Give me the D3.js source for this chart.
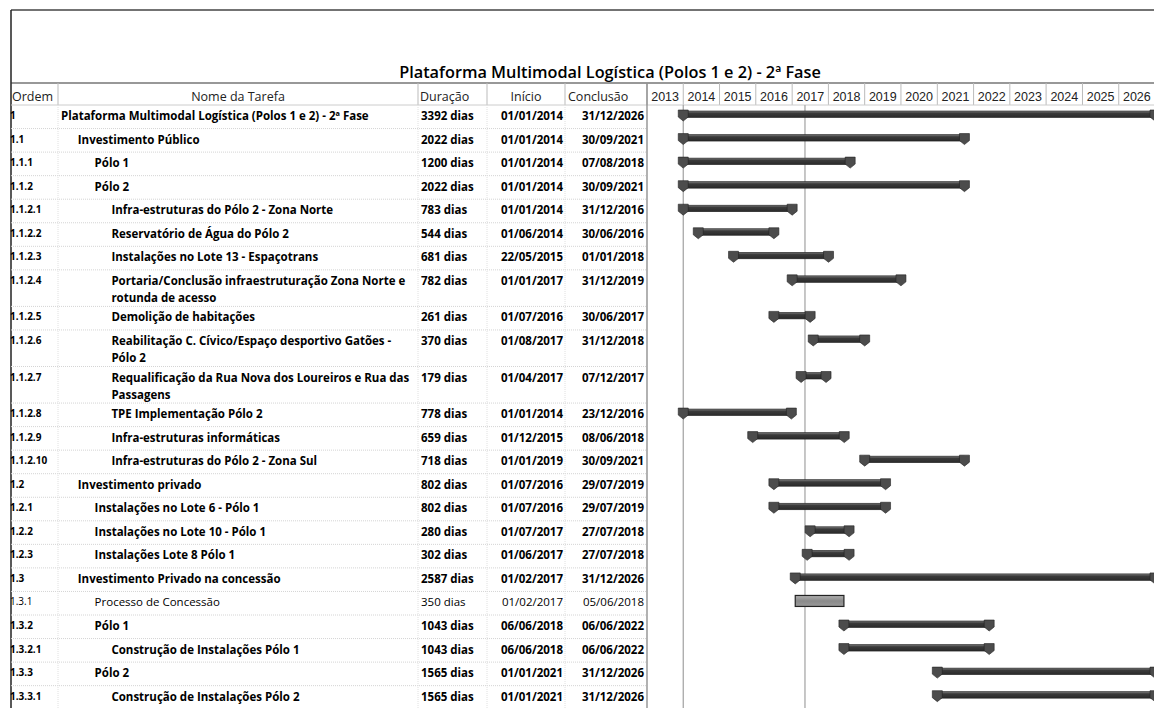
<!DOCTYPE html>
<html>
<head>
<meta charset="utf-8">
<script src="https://cdn.jsdelivr.net/npm/d3@7"></script>
<style>
  body { margin: 0; background: #fff; }
  svg { display: block; font-family: "Open Sans", Lato, sans-serif; }
</style>
</head>
<body>
<div id="gantt"></div>
<script>
// ---- data ----
var chartTitle = "Plataforma Multimodal Logística (Polos 1 e 2) - 2ª Fase";
var taskIds = ["1", "1.1", "1.1.1", "1.1.2", "1.1.2.1", "1.1.2.2", "1.1.2.3", "1.1.2.4", "1.1.2.5",
  "1.1.2.6", "1.1.2.7", "1.1.2.8", "1.1.2.9", "1.1.2.10", "1.2", "1.2.1", "1.2.2", "1.2.3",
  "1.3", "1.3.1", "1.3.2", "1.3.2.1", "1.3.3", "1.3.3.1"];
var taskNames = [
  "Plataforma Multimodal Logística (Polos 1 e 2) - 2ª Fase",
  "Investimento Público",
  "Pólo 1",
  "Pólo 2",
  "Infra-estruturas do Pólo 2 - Zona Norte",
  "Reservatório de Água do Pólo 2",
  "Instalações no Lote 13 - Espaçotrans",
  "Portaria/Conclusão infraestruturação Zona Norte e rotunda de acesso",
  "Demolição de habitações",
  "Reabilitação C. Cívico/Espaço desportivo Gatões - Pólo 2",
  "Requalificação da Rua Nova dos Loureiros e Rua das Passagens",
  "TPE Implementação Pólo 2",
  "Infra-estruturas informáticas",
  "Infra-estruturas do Pólo 2 - Zona Sul",
  "Investimento privado",
  "Instalações no Lote 6 - Pólo 1",
  "Instalações no Lote 10 - Pólo 1",
  "Instalações Lote 8 Pólo 1",
  "Investimento Privado na concessão",
  "Processo de Concessão",
  "Pólo 1",
  "Construção de Instalações Pólo 1",
  "Pólo 2",
  "Construção de Instalações Pólo 2"
];
var durationDays = [3392, 2022, 1200, 2022, 783, 544, 681, 782, 261, 370, 179, 778, 659, 718,
  802, 802, 280, 302, 2587, 350, 1043, 1043, 1565, 1565];
var startDates = ["01/01/2014", "01/01/2014", "01/01/2014", "01/01/2014", "01/01/2014", "01/06/2014",
  "22/05/2015", "01/01/2017", "01/07/2016", "01/08/2017", "01/04/2017", "01/01/2014", "01/12/2015",
  "01/01/2019", "01/07/2016", "01/07/2016", "01/07/2017", "01/06/2017", "01/02/2017", "01/02/2017",
  "06/06/2018", "06/06/2018", "01/01/2021", "01/01/2021"];
var endDates = ["31/12/2026", "30/09/2021", "07/08/2018", "30/09/2021", "31/12/2016", "30/06/2016",
  "01/01/2018", "31/12/2019", "30/06/2017", "31/12/2018", "07/12/2017", "23/12/2016", "08/06/2018",
  "30/09/2021", "29/07/2019", "29/07/2019", "27/07/2018", "27/07/2018", "31/12/2026", "05/06/2018",
  "06/06/2022", "06/06/2022", "31/12/2026", "31/12/2026"];
var summaryTask = [true, true, true, true, true, true, true, true, true, true, true, true, true, true,
  true, true, true, true, true, false, true, true, true, true];
var yearLabels = [2013, 2014, 2015, 2016, 2017, 2018, 2019, 2020, 2021, 2022, 2023, 2024, 2025, 2026];
var projectStart = "01/01/2014";
var statusDate = "10/05/2017";
var headerLabels = ["Ordem", "Nome da Tarefa", "Duração", "Início", "Conclusão"];

// ---- layout ----
var W = 1154, H = 708;
var boxLeft = 11, boxTop = 10, titleBottom = 83, headerBottom = 105;
var colX = [11, 58, 418, 487, 565, 647];   // column edges
var ganttRight = 1155;
var singleRowH = 23.55, extraLineH = 13, lineGap = 17;
var bodyFont = 11.5;
var parseDate = d3.timeParse("%d/%m/%Y");

var svg = d3.select("#gantt").append("svg")
    .attr("width", W)
    .attr("height", H);

var x = d3.scaleTime()
    .domain([new Date(yearLabels[0], 0, 1), new Date(yearLabels[yearLabels.length - 1] + 1, 0, 1)])
    .range([colX[5], ganttRight]);

// build rows
var rows = taskIds.map(function(id, i) {
  return {
    id: id,
    name: taskNames[i],
    level: id.split(".").length,
    dur: durationDays[i],
    startTxt: startDates[i],
    endTxt: endDates[i],
    start: parseDate(startDates[i]),
    end: parseDate(endDates[i]),
    summary: summaryTask[i]
  };
});

// wrap names into the column width
var measure = svg.append("text").style("font-size", bodyFont + "px");
function textWidth(s, bold) {
  measure.style("font-weight", bold ? "bold" : "normal").text(s);
  return measure.node().getComputedTextLength();
}
rows.forEach(function(r) {
  r.indent = 61 + (r.level - 1) * 16.8;
  var maxW = colX[2] - r.indent - 3;
  var words = r.name.split(" "), lines = [], cur = "";
  words.forEach(function(w) {
    var t = cur ? cur + " " + w : w;
    if (textWidth(t, r.summary) > maxW && cur) { lines.push(cur); cur = w; }
    else cur = t;
  });
  lines.push(cur);
  r.lines = lines;
});
measure.remove();

var yPos = headerBottom;
rows.forEach(function(r) {
  r.top = yPos;
  r.h = singleRowH + (r.lines.length - 1) * extraLineH;
  yPos += r.h;
});

// ---- frame ----
svg.append("line").attr("x1", boxLeft).attr("x2", W).attr("y1", boxTop).attr("y2", boxTop)
    .style("stroke", "#444").style("stroke-width", 1.5);
svg.append("line").attr("x1", boxLeft).attr("x2", boxLeft).attr("y1", boxTop).attr("y2", H)
    .style("stroke", "#222").style("stroke-width", 1.5);
svg.append("line").attr("x1", boxLeft).attr("x2", W).attr("y1", titleBottom).attr("y2", titleBottom)
    .style("stroke", "#333").style("stroke-width", 1.2);

svg.append("text")
    .attr("x", 610).attr("y", 78)
    .attr("text-anchor", "middle")
    .style("font-size", "16.3px").style("font-weight", 600)
    .text(chartTitle);

// ---- header ----
var header = svg.append("g");
colX.slice(1).forEach(function(cx) {
  header.append("line").attr("x1", cx).attr("x2", cx).attr("y1", titleBottom).attr("y2", headerBottom)
      .style("stroke", "#bbb");
});
var headerPos = [
  {x: 12, a: "start"}, {x: 238, a: "middle"}, {x: 420, a: "start"}, {x: 526, a: "middle"}, {x: 568, a: "start"}
];
headerLabels.forEach(function(t, i) {
  header.append("text")
      .attr("x", headerPos[i].x).attr("y", 101)
      .attr("text-anchor", headerPos[i].a)
      .style("font-size", "12.5px").style("fill", "#222")
      .text(t);
});

// year header from the time scale
var yearAxis = d3.axisTop(x)
    .tickValues(yearLabels.map(function(y) { return new Date(y, 0, 1); }))
    .tickSize(0)
    .tickFormat("");
var yearG = svg.append("g").attr("transform", "translate(0," + headerBottom + ")").call(yearAxis);
yearG.select(".domain").remove();
yearLabels.forEach(function(yr) {
  var x0 = x(new Date(yr, 0, 1)), x1 = x(new Date(yr + 1, 0, 1));
  yearG.append("line").attr("x1", x1).attr("x2", x1).attr("y1", titleBottom - headerBottom).attr("y2", 0)
      .style("stroke", "#bbb");
  yearG.append("text")
      .attr("x", (x0 + x1) / 2).attr("y", -4)
      .attr("text-anchor", "middle")
      .style("font-size", "12.5px").style("fill", "#222")
      .text(yr);
});
svg.append("line").attr("x1", boxLeft).attr("x2", W).attr("y1", headerBottom).attr("y2", headerBottom)
    .style("stroke", "#ccc");

// ---- table body ----
var body = svg.append("g");
rows.forEach(function(r) {
  body.append("line")
      .attr("x1", boxLeft).attr("x2", colX[5]).attr("y1", r.top + r.h).attr("y2", r.top + r.h)
      .style("stroke", "#d4d4d4").style("stroke-dasharray", "1,1");
});
colX.slice(1, 5).forEach(function(cx) {
  body.append("line").attr("x1", cx).attr("x2", cx).attr("y1", headerBottom).attr("y2", H)
      .style("stroke", "#e0e0e0").style("stroke-dasharray", "1,1");
});
svg.append("line").attr("x1", colX[5]).attr("x2", colX[5]).attr("y1", titleBottom).attr("y2", H)
    .style("stroke", "#888").style("stroke-width", 1.3);

rows.forEach(function(r) {
  var base = r.top + 15;
  var fw = r.summary ? "bold" : "normal";
  body.append("text")
      .attr("x", 10).attr("y", base - 1)
      .style("font-size", "10px").style("font-weight", fw)
      .text(r.id);
  r.lines.forEach(function(ln, k) {
    body.append("text")
        .attr("x", r.indent).attr("y", base + k * lineGap)
        .style("font-size", bodyFont + "px").style("font-weight", fw)
        .text(ln);
  });
  body.append("text")
      .attr("x", colX[2] + 3).attr("y", base)
      .style("font-size", bodyFont + "px").style("font-weight", fw)
      .text(r.dur + " dias");
  body.append("text")
      .attr("x", colX[4] - 2).attr("y", base)
      .attr("text-anchor", "end")
      .style("font-size", bodyFont + "px").style("font-weight", fw)
      .text(r.startTxt);
  body.append("text")
      .attr("x", colX[5] - 3).attr("y", base)
      .attr("text-anchor", "end")
      .style("font-size", bodyFont + "px").style("font-weight", fw)
      .text(r.endTxt);
});

// ---- gantt ----
var defs = svg.append("defs");
var clip = defs.append("clipPath").attr("id", "ganttClip");
clip.append("rect").attr("x", colX[5] + 1).attr("y", headerBottom).attr("width", W - colX[5]).attr("height", H);
var grad = defs.append("linearGradient").attr("id", "sumGrad").attr("x1", 0).attr("x2", 0).attr("y1", 0).attr("y2", 1);
grad.append("stop").attr("offset", "0%").attr("stop-color", "#7a7a7a");
grad.append("stop").attr("offset", "35%").attr("stop-color", "#3a3a3a");
grad.append("stop").attr("offset", "100%").attr("stop-color", "#2a2a2a");
var grad2 = defs.append("linearGradient").attr("id", "taskGrad").attr("x1", 0).attr("x2", 0).attr("y1", 0).attr("y2", 1);
grad2.append("stop").attr("offset", "0%").attr("stop-color", "#b0b0b0");
grad2.append("stop").attr("offset", "50%").attr("stop-color", "#8a8a8a");
grad2.append("stop").attr("offset", "100%").attr("stop-color", "#9a9a9a");

var gantt = svg.append("g").attr("clip-path", "url(#ganttClip)");

// reference lines: project start and status date
[projectStart, statusDate].forEach(function(d) {
  var lx = x(parseDate(d));
  gantt.append("line").attr("x1", lx).attr("x2", lx).attr("y1", headerBottom).attr("y2", H)
      .style("stroke", "#a8a8a8").style("stroke-width", 1.3);
});

function marker(cx, y0) {
  return "M" + (cx - 5) + "," + y0 + "L" + (cx + 5) + "," + y0 + "L" + (cx + 5) + "," + (y0 + 7) +
    "L" + cx + "," + (y0 + 11) + "L" + (cx - 5) + "," + (y0 + 7) + "Z";
}

rows.forEach(function(r) {
  var xs = x(r.start), xe = x(d3.timeDay.offset(r.end, 1));
  var y0 = r.top + 5;
  if (r.summary) {
    gantt.append("rect")
        .attr("x", xs).attr("y", y0 + 1).attr("width", xe - xs).attr("height", 6.5)
        .style("fill", "url(#sumGrad)").style("stroke", "#1e1e1e").style("stroke-width", 0.6);
    [xs, xe].forEach(function(mx) {
      gantt.append("path").attr("d", marker(mx, y0))
          .style("fill", "#4c4c4c").style("stroke", "#222").style("stroke-width", 0.6);
    });
  } else {
    gantt.append("rect")
        .attr("x", xs).attr("y", y0 - 1).attr("width", xe - xs).attr("height", 11)
        .style("fill", "url(#taskGrad)").style("stroke", "#222").style("stroke-width", 1.2);
  }
});
</script>
</body>
</html>
